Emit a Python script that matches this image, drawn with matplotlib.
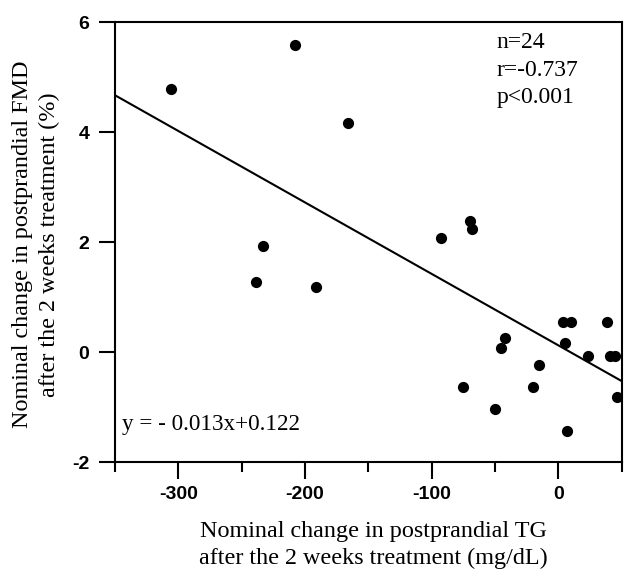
import matplotlib.pyplot as plt
import numpy as np

# cambio en TG (mg/dL) y cambio en FMD (%)
tg = [-306, -208, -166, -233, -239, -191, -93, -70, -68, -75, -50, -45,
      -42, -20, -15, 5, 4, 10, 7, 23, 38, 41, 45, 46]
fmd = [4.78, 5.59, 4.16, 1.93, 1.27, 1.18, 2.07, 2.39, 2.24, -0.64, -1.04, 0.08,
       0.25, -0.64, -0.24, 0.16, 0.55, 0.55, -1.44, -0.07, 0.55, -0.07, -0.07, -0.82]
pendiente = -0.013
ordenada = 0.122
x_ticks = [-300, -200, -100, 0]
y_ticks = [-2, 0, 2, 4, 6]

plt.rcParams['axes.unicode_minus'] = False

fig = plt.figure(figsize=(6.28, 5.69), dpi=100)
ax = fig.add_axes([0.183, 0.188, 0.807, 0.773])

ax.scatter(tg, fmd, s=65, color='black', zorder=3, linewidths=0)
xr = np.array([-350, 50])
ax.plot(xr, pendiente * xr + ordenada, color='black', lw=1.5)

ax.set_xlim(-350, 50)
ax.set_ylim(-2, 6)
ax.set_xticks(x_ticks)
ax.set_xticks([-350, -250, -150, -50, 50], minor=True)
ax.set_yticks(y_ticks)

for s in ax.spines.values():
    s.set_linewidth(1.5)
ax.tick_params(axis='x', which='major', direction='out', length=12, width=1.5, pad=5)
ax.tick_params(axis='x', which='minor', direction='out', length=7.5, width=1.5)
ax.tick_params(axis='y', which='major', direction='out', length=11.5, width=1.5, pad=7)
for lbl in ax.get_xticklabels() + ax.get_yticklabels():
    lbl.set_fontfamily('Liberation Sans')
    lbl.set_fontweight('bold')
    lbl.set_fontsize(14)

serif = 'Liberation Serif'
ax.set_xlabel('Nominal change in postprandial TG\nafter the 2 weeks treatment (mg/dL)',
              fontfamily=serif, fontsize=17.4, linespacing=1.35)
ax.xaxis.set_label_coords(0.51, -0.134)
ax.set_ylabel('Nominal change in postprandial FMD\nafter the 2 weeks treatment (%)',
              fontfamily=serif, fontsize=17.4, linespacing=1.35)
ax.yaxis.set_label_coords(-0.1085, 0.495)

ax.text(0.753, 0.978, 'n=24\nr=-0.737\np<0.001', transform=ax.transAxes,
        ha='left', va='top', fontfamily=serif, fontsize=17, linespacing=1.42)
ax.text(0.014, 0.073, 'y = - 0.013x+0.122', transform=ax.transAxes,
        ha='left', va='baseline', fontfamily=serif, fontsize=16.7)

fig.savefig('out.png', dpi=100)
